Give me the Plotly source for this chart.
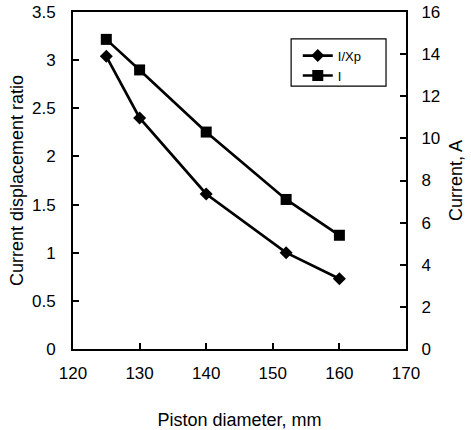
import plotly.graph_objects as go

diameter = [125, 130, 140, 152, 160]
ratio = [3.04, 2.40, 1.61, 1.00, 0.73]
current = [14.7, 13.25, 10.3, 7.1, 5.4]

FONT = "Liberation Sans, Arial, sans-serif"

fig = go.Figure()
fig.add_trace(go.Scatter(x=diameter, y=ratio, name="I/Xp", mode="lines+markers",
                         line=dict(color="black", width=2.7),
                         marker=dict(symbol="diamond", size=10, color="black")))
fig.add_trace(go.Scatter(x=diameter, y=current, name="I", mode="lines+markers", yaxis="y2",
                         line=dict(color="black", width=2.7),
                         marker=dict(symbol="square", size=11, color="black")))

fig.add_shape(type="rect", xref="paper", yref="paper",
              x0=0.655, x1=0.94, y0=0.78, y1=0.92,
              line=dict(color="black", width=1.2), fillcolor="rgba(0,0,0,0)", layer="above")

fig.update_layout(
    width=471, height=430,
    margin=dict(l=73, r=65, t=12, b=81),
    plot_bgcolor="white", paper_bgcolor="white",
    font=dict(family=FONT, size=17, color="black"),
    showlegend=True,
    legend=dict(x=0.675, y=0.915, xanchor="left", yanchor="top",
                borderwidth=0, bgcolor="rgba(0,0,0,0)",
                font=dict(size=13), tracegroupgap=0, itemwidth=30),
    xaxis=dict(range=[120, 170], dtick=10, tick0=120, showline=True, linecolor="black",
               linewidth=2, mirror=True, ticks="inside", ticklen=6, tickwidth=1.5,
               tickcolor="black", showgrid=False, zeroline=False, ticklabelstandoff=8,
               automargin=False,
               title=dict(text="Piston diameter, mm", font=dict(size=18), standoff=32)),
    yaxis=dict(range=[0, 3.5], dtick=0.5, tick0=0, showline=True, linecolor="black",
               linewidth=2, ticks="inside", ticklen=6, tickwidth=1.5, tickcolor="black",
               showgrid=False, zeroline=False, tickformat="~g", ticklabelstandoff=12,
               automargin=False,
               title=dict(text="Current displacement ratio", font=dict(size=18), standoff=4)),
    yaxis2=dict(range=[0, 16], dtick=2, tick0=0, overlaying="y", side="right",
                showline=True, linecolor="black", linewidth=2, ticks="inside", ticklen=6,
                tickwidth=1.5, tickcolor="black", showgrid=False, zeroline=False,
                ticklabelstandoff=10, automargin=False,
                title=dict(text="Current, A", font=dict(size=18), standoff=10)),
)

fig.write_html("out.html")
